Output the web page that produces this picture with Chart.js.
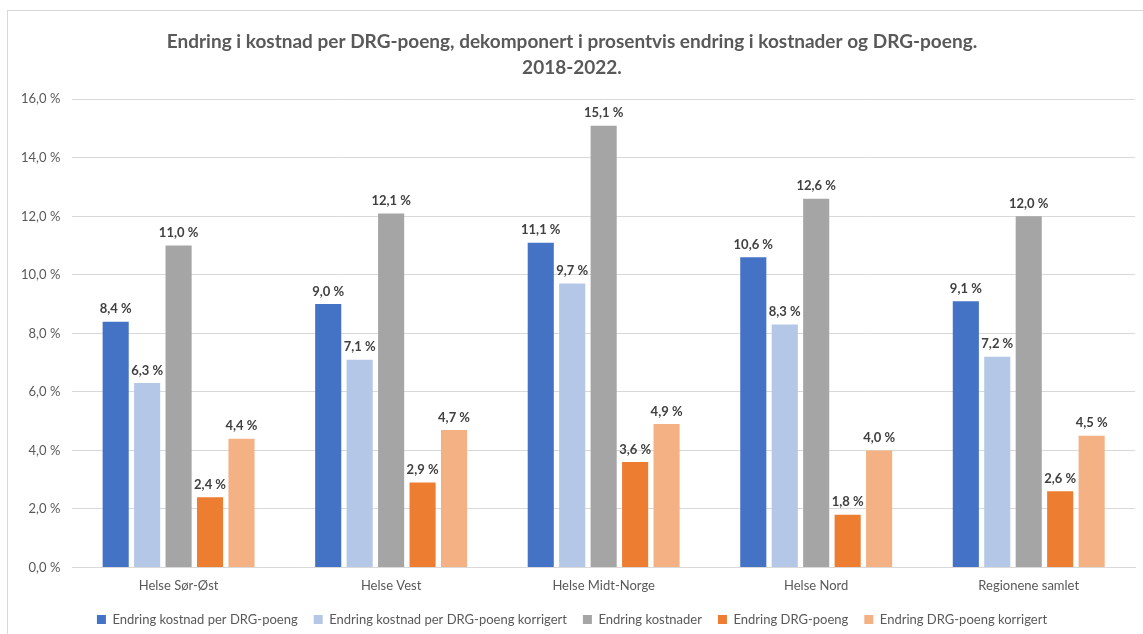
<!DOCTYPE html>
<html>
<head>
<meta charset="utf-8">
<script src="https://cdn.jsdelivr.net/npm/chart.js@4.4.1/dist/chart.umd.min.js"></script>
<style>
  html, body { margin: 0; padding: 0; background: #fff; }
  #ramme { position: absolute; left: 7px; top: 10px; width: 1140px; height: 630px; border: 1px solid #d9d9d9; box-sizing: border-box; background: #fff; }
  canvas { display: block; }
</style>
</head>
<body>
<div id="ramme"><canvas id="graf"></canvas></div>
<script>
// Data lest av bildet
const regioner = ['Helse Sør-Øst', 'Helse Vest', 'Helse Midt-Norge', 'Helse Nord', 'Regionene samlet'];
const kostnadPerDrg = [8.4, 9.0, 11.1, 10.6, 9.1];
const kostnadPerDrgKorr = [6.3, 7.1, 9.7, 8.3, 7.2];
const kostnader = [11.0, 12.1, 15.1, 12.6, 12.0];
const drgPoeng = [2.4, 2.9, 3.6, 1.8, 2.6];
const drgPoengKorr = [4.4, 4.7, 4.9, 4.0, 4.5];
const yTicks = [0, 2, 4, 6, 8, 10, 12, 14, 16];

const fmt = v => v.toFixed(1).replace('.', ',') + '\u00a0%';

// Enkel plugin for verdier over stolpene
const verdiEtiketter = {
  id: 'verdiEtiketter',
  afterDatasetsDraw(chart) {
    const ctx = chart.ctx;
    ctx.save();
    ctx.font = 'bold 13px Lato, "Open Sans", sans-serif';
    ctx.fillStyle = '#404040';
    ctx.textAlign = 'center';
    ctx.textBaseline = 'bottom';
    chart.data.datasets.forEach((ds, i) => {
      chart.getDatasetMeta(i).data.forEach((bar, j) => {
        ctx.fillText(fmt(ds.data[j]), bar.x, bar.y - 6);
      });
    });
    ctx.restore();
  }
};

const serie = (label, data, farge) => ({
  label, data,
  backgroundColor: farge,
  borderWidth: 0,
  categoryPercentage: 0.74,
  barPercentage: 0.83
});

new Chart(document.getElementById('graf'), {
  type: 'bar',
  data: {
    labels: regioner,
    datasets: [
      serie('Endring kostnad per DRG-poeng', kostnadPerDrg, '#4472c4'),
      serie('Endring kostnad per DRG-poeng korrigert', kostnadPerDrgKorr, '#b4c7e7'),
      serie('Endring kostnader', kostnader, '#a5a5a5'),
      serie('Endring DRG-poeng', drgPoeng, '#ed7d31'),
      serie('Endring DRG-poeng korrigert', drgPoengKorr, '#f4b183')
    ]
  },
  options: {
    responsive: true,
    maintainAspectRatio: false,
    animation: false,
    layout: { padding: { left: 1, right: 11, top: 8, bottom: 3 } },
    plugins: {
      title: {
        display: true,
        text: ['Endring i kostnad per DRG-poeng, dekomponert i prosentvis endring i kostnader og DRG-poeng.', '2018-2022.'],
        color: '#595959',
        font: { family: 'Lato, "Open Sans", sans-serif', size: 19, weight: 'bold', lineHeight: 1.35 },
        padding: { top: 10, bottom: 19 },
        align: 'center'
      },
      legend: {
        position: 'bottom',
        labels: {
          color: '#595959',
          font: { family: 'Lato, "Open Sans", sans-serif', size: 13 },
          boxWidth: 9,
          boxHeight: 9,
          padding: 16
        }
      },
      tooltip: { enabled: false }
    },
    scales: {
      x: {
        grid: { display: false },
        border: { color: '#d9d9d9' },
        ticks: { color: '#595959', font: { family: 'Lato, "Open Sans", sans-serif', size: 13 } }
      },
      y: {
        min: 0,
        max: 16,
        afterBuildTicks: axis => { axis.ticks = yTicks.map(v => ({ value: v })); },
        grid: { color: '#d9d9d9', drawTicks: false },
        border: { display: false },
        ticks: {
          color: '#595959',
          padding: 12,
          font: { family: 'Lato, "Open Sans", sans-serif', size: 13 },
          callback: v => fmt(v)
        }
      }
    }
  },
  plugins: [verdiEtiketter]
});
</script>
</body>
</html>
